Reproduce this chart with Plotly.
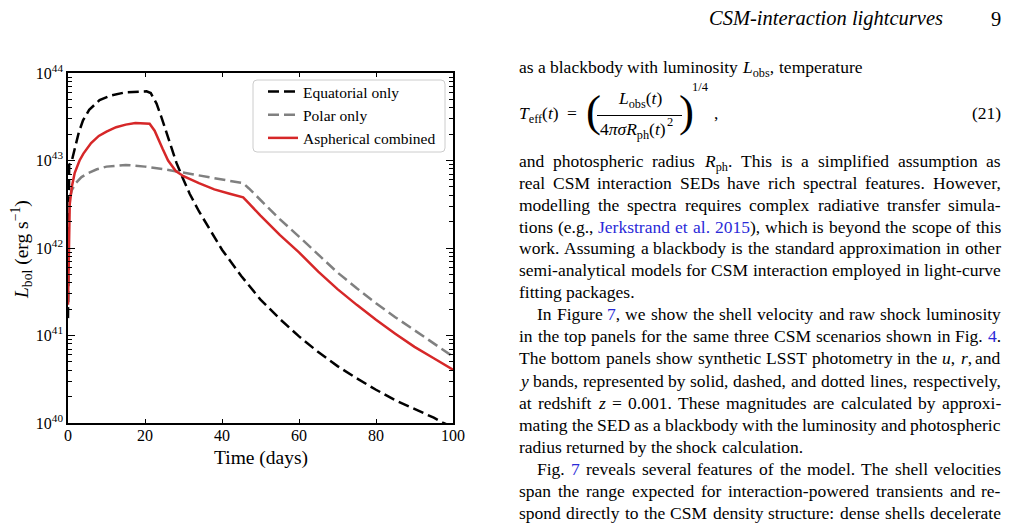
import re
import plotly.graph_objects as go

# ---------------- data ----------------
t_equatorial = [0, 0.3, 1.0, 1.75, 2.8, 3.9, 5.5, 8.2, 11, 15, 18, 20.4, 21.5, 23, 24.3, 25.6, 27, 28.2,
                30, 31.6, 34, 37, 40, 45, 50, 55, 60, 65, 70, 75, 80, 85, 90, 95, 97.5, 100]
L_equatorial = [1.58e41, 8.91e42, 1.00e43, 1.32e43, 2.09e43, 2.88e43, 3.80e43, 4.90e43, 5.50e43, 6.03e43,
                6.17e43, 6.17e43, 5.89e43, 4.47e43, 3.09e43, 2.04e43, 1.32e43, 9.33e42, 6.03e42, 4.17e42,
                2.63e42, 1.58e42, 9.55e41, 4.79e41, 2.57e41, 1.55e41, 9.77e40, 6.46e40, 4.47e40, 3.24e40,
                2.40e40, 1.82e40, 1.45e40, 1.15e40, 1.00e40, 0.90e40]

t_polar = [0, 0.3, 1, 2, 3.5, 5, 7.5, 10, 15, 20, 25, 30, 35, 40, 45.5, 47, 50, 55, 60, 65,
           70, 75, 80, 85, 90, 95, 100]
L_polar = [2.51e42, 3.55e42, 4.57e42, 5.50e42, 6.46e42, 7.08e42, 7.94e42, 8.51e42, 8.91e42, 8.51e42,
           7.94e42, 7.24e42, 6.61e42, 6.03e42, 5.50e42, 4.79e42, 3.55e42, 2.14e42, 1.35e42, 8.32e41,
           5.25e41, 3.47e41, 2.34e41, 1.62e41, 1.15e41, 8.13e40, 5.75e40]

t_combined = [0, 0.15, 0.45, 1, 1.75, 3, 4, 6, 8, 10, 12.5, 15, 17.5, 21.2, 22.5, 24.6, 26, 28, 30, 34,
              38, 42, 45.5, 47, 50, 55, 60, 65, 70, 75, 80, 85, 90, 95, 100]
L_combined = [2.24e41, 1.00e42, 3.16e42, 5.01e42, 7.24e42, 1.00e43, 1.20e43, 1.58e43, 1.91e43, 2.14e43,
              2.40e43, 2.57e43, 2.69e43, 2.63e43, 2.19e43, 1.35e43, 1.00e43, 7.59e42, 6.61e42, 5.50e42,
              4.68e42, 4.17e42, 3.80e42, 3.24e42, 2.34e42, 1.41e42, 8.91e41, 5.37e41, 3.39e41, 2.24e41,
              1.51e41, 1.05e41, 7.41e40, 5.50e40, 4.07e40]

series_names = ["Equatorial only", "Polar only", "Aspherical combined"]

x_tick_vals = [0, 20, 40, 60, 80, 100]
y_exponents = [40, 41, 42, 43, 44]
y_tick_vals = [10.0 ** e for e in y_exponents]
y_tick_text = ["10<sup>%d</sup>" % e for e in y_exponents]
y_minor_vals = [m * 10.0 ** e for e in y_exponents[:-1] for m in range(2, 10)]

x_title = "Time (days)"
y_title = "<i>L</i><sub>bol</sub> (erg s<sup>\u22121</sup>)"

header_title = "<i>CSM-interaction lightcurves</i>"
page_number = "9"

body_lines = [
    ("as a blackbody with luminosity <i>L</i><sub>obs</sub>, temperature", 68.5, 0, False),
    ("and photospheric radius <i>R</i><sub>ph</sub>. This is a simplified assumption as", 162.5, 0, True),
    ("real CSM interaction SEDs have rich spectral features. However,", 184.5, 0, True),
    ("modelling the spectra requires complex radiative transfer simula-", 206.5, 0, True),
    ("tions (e.g., [Jerkstrand] [et] [al.] [2015]), which is beyond the scope of this", 228.3, 0, True),
    ("work. Assuming a blackbody is the standard approximation in other", 250, 0, True),
    ("semi-analytical models for CSM interaction employed in light-curve", 271.8, 0, True),
    ("fitting packages.", 293.5, 0, False),
    ("In Figure [7], we show the shell velocity and raw shock luminosity", 316, 18, True),
    ("in the top panels for the same three CSM scenarios shown in Fig. [4].", 338, 0, True),
    ("The bottom panels show synthetic LSST photometry in the <i>u</i>, <i>r</i>, and", 360, 0, True),
    ("<i>y</i> bands, represented by solid, dashed, and dotted lines, respectively,", 382.3, 0, True),
    ("at redshift <i>z</i> = 0.001. These magnitudes are calculated by approxi-", 404.5, 0, True),
    ("mating the SED as a blackbody with the luminosity and photospheric", 426.5, 0, True),
    ("radius returned by the shock calculation.", 448.3, 0, False),
    ("Fig. [7] reveals several features of the model. The shell velocities", 470.5, 18, True),
    ("span the range expected for interaction-powered transients and re-", 492.8, 0, True),
    ("spond directly to the CSM density structure: dense shells decelerate", 514.8, 0, True),
]

# ---------------- geometry / style ----------------
FIG_W, FIG_H = 1011, 523
M_L, M_R, M_T, M_B = 68, 558, 73, 100
PW = FIG_W - M_L - M_R
PH = FIG_H - M_T - M_B
SERIF = "Liberation Serif, Times New Roman, serif"
LINK = "#2a2ad8"
BODY = 17.5
COL_L, COL_R = 519, 1001


def px(x):
    return (x - M_L) / PW


def py(y):
    return 1 - (y - M_T) / PH


CW = {' ': 250, '(': 333, ')': 333, ',': 250, '-': 333, '.': 250, ':': 278, '=': 564, '/': 278}
for c in "0123456789":
    CW[c] = 500
CW.update(dict(zip("ABCDEFGHIJKLMNOPQRSTUVWXYZ",
                   [722, 667, 667, 722, 611, 556, 722, 722, 333, 389, 722, 611, 889, 722, 722, 556, 722,
                    667, 556, 611, 722, 722, 944, 722, 722, 611])))
CW.update(dict(zip("abcdefghijklmnopqrstuvwxyz",
                   [444, 500, 444, 500, 444, 333, 500, 500, 278, 278, 500, 278, 778, 500, 500, 500, 500,
                    333, 389, 278, 500, 500, 722, 500, 500, 444])))


def text_width(html, size):
    html = html.replace('[', '').replace(']', '')
    tot = 0.0
    for m in re.finditer(r'<sub>(.*?)</sub>|<[^>]+>|([^<]+)', html):
        if m.group(1) is not None:
            tot += 0.7 * sum(CW.get(c, 500) for c in m.group(1))
        elif m.group(2) is not None:
            tot += sum(CW.get(c, 500) for c in m.group(2))
    return tot * size / 1000.0


annotations = []


def add_text(text, x, yc, xanchor='left', size=BODY, color='black'):
    """yc = vertical centre of the x-height of the text line (pixels)."""
    annotations.append(dict(
        text=text, x=px(x), y=py(yc - 0.661 * size), xref='paper', yref='paper',
        xanchor=xanchor, yanchor='top', showarrow=False, borderpad=0, borderwidth=0,
        font=dict(family=SERIF, size=size, color=color)))


def add_mid(text, x, ym, xanchor='left', size=BODY, color='black', angle=0):
    annotations.append(dict(
        text=text, x=px(x), y=py(ym), xref='paper', yref='paper', textangle=angle,
        xanchor=xanchor, yanchor='middle', showarrow=False, borderpad=0, borderwidth=0,
        font=dict(family=SERIF, size=size, color=color)))


def markup(word):
    return word.replace('[', '<span style="color:%s">' % LINK).replace(']', '</span>')


def place_line(text, yc, indent, justify):
    words = text.split(' ')
    widths = [text_width(w, BODY) for w in words]
    x0 = COL_L + indent
    if justify and len(words) > 1:
        gap = (COL_R - x0 - sum(widths)) / (len(words) - 1)
    else:
        gap = CW[' '] * BODY / 1000.0
    x = x0
    for i, (w, wd) in enumerate(zip(words, widths)):
        if justify and i == len(words) - 1 and len(words) > 1:
            add_text(markup(w), COL_R, yc, 'right')
        else:
            add_text(markup(w), x, yc, 'left')
        x += wd + gap


for line in body_lines:
    place_line(*line)

# header
add_mid(header_title, 943, 19, 'right', size=20.5)
add_mid(page_number, 1001, 19, 'right', size=20.5)

# equation (21)
EQ = 115
add_text("<i>T</i><sub>eff</sub>(<i>t</i>)", 519, EQ, 'left')
add_text("=", 572, EQ, 'center')
add_mid("(", 593, EQ - 4, 'center', size=45)
add_text("<i>L</i><sub>obs</sub>(<i>t</i>)", 639.5, EQ - 15, 'center')
add_text("4<i>\u03c0\u03c3R</i><sub>ph</sub>(<i>t</i>)", 600, EQ + 16, 'left')
add_mid("2", 666.5, EQ + 6.5, 'left', size=12.5)
add_mid(")", 686, EQ - 4, 'center', size=45)
add_mid("1/4", 692, 87.5, 'left', size=12.5)
add_text(",", 714, EQ, 'left')
add_text("(21)", COL_R, EQ, 'right')

# chart titles
add_mid(x_title, 260.5, 457.5, 'center', size=19.5)
add_mid(y_title, 22, 250, 'center', size=19.5, angle=-90)

# ---------------- figure ----------------
fig = go.Figure()
fig.add_trace(go.Scatter(x=t_equatorial, y=L_equatorial, mode='lines', name=series_names[0],
                         line=dict(color='black', width=2.5, dash='11px,5px')))
fig.add_trace(go.Scatter(x=t_polar, y=L_polar, mode='lines', name=series_names[1],
                         line=dict(color='#808080', width=2.5, dash='11px,5px')))
fig.add_trace(go.Scatter(x=t_combined, y=L_combined, mode='lines', name=series_names[2],
                         line=dict(color='#d62728', width=2.5)))

# rounded legend frame
bx0, bx1, by0, by1, r = 253, 445, 80, 152, 4
X0, X1, YT, YB = px(bx0), px(bx1), py(by0), py(by1)
rx, ry = r / PW, r / PH
path = (f"M {X0+rx},{YT} L {X1-rx},{YT} Q {X1},{YT} {X1},{YT-ry} L {X1},{YB+ry} "
        f"Q {X1},{YB} {X1-rx},{YB} L {X0+rx},{YB} Q {X0},{YB} {X0},{YB+ry} "
        f"L {X0},{YT-ry} Q {X0},{YT} {X0+rx},{YT} Z")
shapes = [
    dict(type='path', path=path, xref='paper', yref='paper', layer='above',
         line=dict(color='#cccccc', width=1), fillcolor='rgba(255,255,255,0.8)'),
    dict(type='line', xref='paper', yref='paper', x0=px(597), x1=px(682), y0=py(EQ + 0.5), y1=py(EQ + 0.5),
         line=dict(color='black', width=1)),
]

axis_common = dict(showline=True, linecolor='black', linewidth=1.5, mirror='allticks',
                   showgrid=False, zeroline=False, ticks='inside', tickcolor='black',
                   tickfont=dict(family=SERIF, size=16, color='black'))

fig.update_layout(
    width=FIG_W, height=FIG_H, autosize=False,
    margin=dict(l=M_L, r=M_R, t=M_T, b=M_B, pad=0),
    paper_bgcolor='white', plot_bgcolor='white',
    font=dict(family=SERIF, color='black'),
    showlegend=True,
    legend=dict(x=px(263), y=py(75), xanchor='left', yanchor='top',
                bgcolor='rgba(0,0,0,0)', borderwidth=0,
                font=dict(family=SERIF, size=15.5, color='black'), tracegroupgap=0),
    xaxis=dict(range=[0, 100], tickmode='array', tickvals=x_tick_vals, ticklen=4, tickwidth=1.2,
               ticklabelstandoff=-3, **axis_common),
    yaxis=dict(type='log', range=[40, 44], tickmode='array', tickvals=y_tick_vals, ticktext=y_tick_text,
               ticklen=7, tickwidth=1.2,
               minor=dict(tickmode='array', tickvals=y_minor_vals, ticks='inside', ticklen=4,
                          tickwidth=1, tickcolor='black', showgrid=False),
               **axis_common),
    annotations=annotations,
    shapes=shapes,
)

fig.write_html("out.html", config={'displayModeBar': False})
